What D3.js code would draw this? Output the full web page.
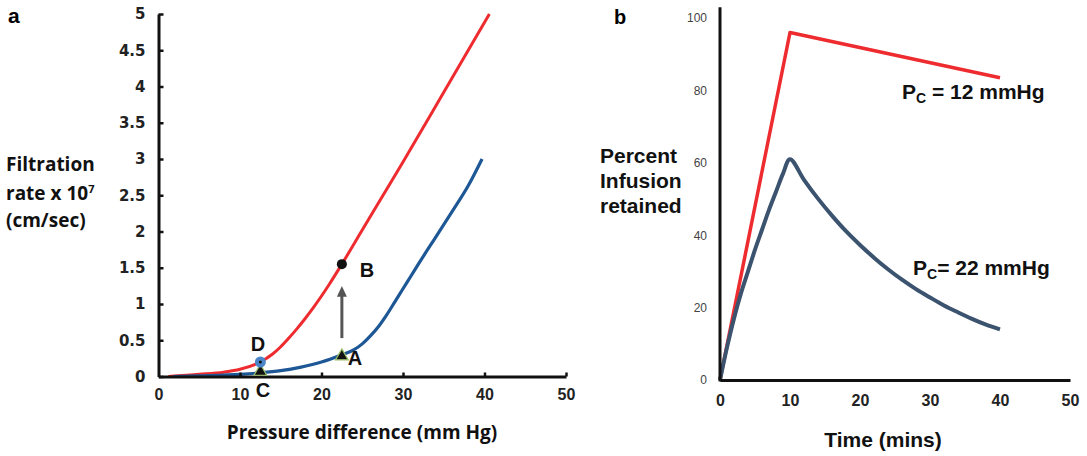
<!DOCTYPE html>
<html>
<head>
<meta charset="utf-8">
<script src="https://cdn.jsdelivr.net/npm/d3@7"></script>
<style>
  body { margin: 0; background: #fff; }
  svg { display: block; }
  .tick text { font-family: "Liberation Sans", Arial, sans-serif; }
</style>
</head>
<body>
<div id="chart"></div>
<script>
// Panel a: filtration rate vs pressure difference
var pressureRed = [1.2, 5, 8, 10, 12.5, 14, 15, 16, 17, 18, 19, 20, 21, 22.5, 25, 27.5, 30, 35, 40.6];
var filtrationRed = [0, 0.03, 0.06, 0.1, 0.2, 0.31, 0.41, 0.53, 0.66, 0.8, 0.95, 1.11, 1.28, 1.55, 2.02, 2.49, 2.96, 3.92, 5.0];
var pressureBlue = [1.8, 5, 10, 12.5, 15, 17.5, 20, 22.5, 24, 25, 26, 27, 28, 29, 30, 31, 32, 34, 36, 38, 39.7];
var filtrationBlue = [0, 0.01, 0.03, 0.05, 0.08, 0.13, 0.2, 0.3, 0.37, 0.45, 0.56, 0.69, 0.85, 1.03, 1.21, 1.39, 1.57, 1.92, 2.27, 2.63, 3.0];
var pressureTicks = [0, 10, 20, 30, 40, 50];
var filtrationTicks = [0, 0.5, 1, 1.5, 2, 2.5, 3, 3.5, 4, 4.5, 5];

// labelled points on panel a
var pointNames = ["D", "C", "A", "B"];
var pointPressure = [12.5, 12.5, 22.5, 22.5];
var pointFiltration = [0.2, 0.04, 0.28, 1.55];

// Panel b: percent infusion retained vs time
var timeRed = [0, 10, 40];
var retainedRed = [0, 96, 83.5];
var timeBlue = [0, 1, 2, 3, 4, 5, 6, 7, 8, 9, 10, 12, 14, 16, 18, 20, 22, 24, 26, 28, 30, 32, 34, 36, 38, 40];
var retainedBlue = [0, 9, 17, 24, 30, 36, 41.5, 47, 52, 57, 61, 55.3, 50.1, 45.4, 41.1, 37.3, 33.8, 30.6, 27.7, 25.1, 22.8, 20.6, 18.7, 16.9, 15.3, 14];
var timeTicks = [0, 10, 20, 30, 40, 50];
var retainedTicks = [0, 20, 40, 60, 80, 100];

var svgWidth = 1087;
var svgHeight = 456;
var red = "#ee2b2f";

var svg = d3.select("#chart").append("svg")
    .attr("width", svgWidth)
    .attr("height", svgHeight);

// ---------- panel a ----------
var xA = d3.scaleLinear().domain([0, 50]).range([158.5, 566]);
var yA = d3.scaleLinear().domain([0, 5]).range([376.5, 14]);

var lineA = d3.line().curve(d3.curveMonotoneX);

svg.append("path")
    .attr("d", lineA(pressureRed.map((p, i) => [xA(p), yA(filtrationRed[i])])))
    .attr("fill", "none")
    .attr("stroke", red)
    .attr("stroke-width", 3);

svg.append("path")
    .attr("d", lineA(pressureBlue.map((p, i) => [xA(p), yA(filtrationBlue[i])])))
    .attr("fill", "none")
    .attr("stroke", "#1d5796")
    .attr("stroke-width", 3.2);

var axisA_y = svg.append("g")
    .attr("transform", `translate(${xA(0)},0)`)
    .call(d3.axisLeft(yA).tickValues(filtrationTicks).tickSizeInner(-5).tickSizeOuter(0).tickPadding(13)
        .tickFormat(d => d));
var axisA_x = svg.append("g")
    .attr("transform", `translate(0,${yA(0)})`)
    .call(d3.axisBottom(xA).tickValues(pressureTicks).tickSizeInner(-4).tickSizeOuter(0).tickPadding(12));

[axisA_y, axisA_x].forEach(function (g) {
    g.select(".domain").attr("stroke", "#111").attr("stroke-width", 3);
    g.selectAll(".tick line").attr("stroke", "#111").attr("stroke-width", 2.5);
    g.selectAll(".tick text")
        .attr("font-weight", "bold")
        .attr("fill", "#222");
});
axisA_y.selectAll(".tick text")
    .style("font-family", "'DejaVu Sans', sans-serif")
    .style("font-size", "15px");
axisA_x.selectAll(".tick text").attr("font-size", 16);
axisA_x.selectAll(".tick").filter(d => d === 0).select("line").remove();

// arrow from A towards B
var arrowX = xA(22.5);
svg.append("line")
    .attr("x1", arrowX).attr("x2", arrowX)
    .attr("y1", yA(0.53)).attr("y2", yA(1.12))
    .attr("stroke", "#555").attr("stroke-width", 3);
svg.append("path")
    .attr("d", `M${arrowX - 5},${yA(1.1)} L${arrowX + 5},${yA(1.1)} L${arrowX},${yA(1.25)} Z`)
    .attr("fill", "#555");

// point markers
var tri = d3.symbol().type(d3.symbolTriangle).size(70);
svg.append("path")
    .attr("d", tri())
    .attr("transform", `translate(${xA(pointPressure[1])},${yA(pointFiltration[1]) - 2})`)
    .attr("fill", "#111").attr("stroke", "#9cc26b").attr("stroke-width", 1.2);
svg.append("path")
    .attr("d", tri())
    .attr("transform", `translate(${xA(pointPressure[2])},${yA(pointFiltration[2])})`)
    .attr("fill", "#111").attr("stroke", "#9cc26b").attr("stroke-width", 1.2);
svg.append("circle")
    .attr("cx", xA(pointPressure[0])).attr("cy", yA(pointFiltration[0]))
    .attr("r", 5.5).attr("fill", "#4a86c8");
svg.append("circle")
    .attr("cx", xA(pointPressure[0])).attr("cy", yA(pointFiltration[0]))
    .attr("r", 1.5).attr("fill", "#111");
svg.append("circle")
    .attr("cx", xA(pointPressure[3])).attr("cy", yA(pointFiltration[3]))
    .attr("r", 5).attr("fill", "#111");

// point letters
var letterPos = [[258, 344], [263, 390], [355, 358], [367, 270]];
svg.selectAll("text.point-label")
    .data(pointNames)
    .enter()
    .append("text")
    .classed("point-label", true)
    .attr("x", (d, i) => letterPos[i][0])
    .attr("y", (d, i) => letterPos[i][1])
    .attr("dy", "0.36em")
    .attr("text-anchor", "middle")
    .attr("font-family", "Liberation Sans, Arial, sans-serif")
    .attr("font-weight", "bold")
    .attr("font-size", 20)
    .attr("fill", "#111")
    .text(d => d);

svg.append("text")
    .attr("x", 8).attr("y", 23)
    .attr("font-family", "Liberation Sans, Arial, sans-serif")
    .attr("font-weight", "bold").attr("font-size", 21)
    .text("a");

var yTitleA = svg.append("text")
    .attr("font-family", "Open Sans, sans-serif")
    .attr("font-weight", 700)
    .attr("font-size", 19)
    .attr("fill", "#111");
yTitleA.append("tspan").attr("x", 6).attr("y", 171).text("Filtration");
yTitleA.append("tspan").attr("x", 6).attr("y", 200).text("rate  x 10");
yTitleA.append("tspan").attr("dy", -7).attr("font-size", 11).text("7");
yTitleA.append("tspan").attr("x", 6).attr("y", 227).text("(cm/sec)");

svg.append("text")
    .attr("x", 362).attr("y", 439)
    .attr("text-anchor", "middle")
    .attr("font-family", "Open Sans, sans-serif")
    .attr("font-weight", 700)
    .attr("font-size", 19)
    .attr("fill", "#111")
    .text("Pressure difference (mm Hg)");

// ---------- panel b ----------
var xB = d3.scaleLinear().domain([0, 50]).range([720, 1070]);
var yB = d3.scaleLinear().domain([0, 100]).range([380, 18]);

svg.append("path")
    .attr("d", d3.line()(timeRed.map((t, i) => [xB(t), yB(retainedRed[i])])))
    .attr("fill", "none")
    .attr("stroke", red)
    .attr("stroke-width", 3.5)
    .attr("stroke-linejoin", "round");

svg.append("path")
    .attr("d", d3.line().curve(d3.curveCatmullRom.alpha(0.5))(timeBlue.map((t, i) => [xB(t), yB(retainedBlue[i])])))
    .attr("fill", "none")
    .attr("stroke", "#3b536e")
    .attr("stroke-width", 4);

var axisB_y = svg.append("g")
    .attr("transform", `translate(${xB(0)},0)`)
    .call(d3.axisLeft(yB).tickValues(retainedTicks).tickSize(0).tickPadding(13));
axisB_y.select(".domain").remove();
axisB_y.selectAll(".tick text").attr("font-size", 12).attr("fill", "#444");

var axisB_x = svg.append("g")
    .attr("transform", `translate(0,${yB(0)})`)
    .call(d3.axisBottom(xB).tickValues(timeTicks).tickSize(0).tickPadding(15));
axisB_x.select(".domain").attr("stroke", "#111").attr("stroke-width", 3);
axisB_x.selectAll(".tick text").attr("font-size", 16).attr("font-weight", "bold").attr("fill", "#222");

svg.append("line")
    .attr("x1", xB(0)).attr("x2", xB(0))
    .attr("y1", yB(0) + 1.5).attr("y2", yB(103))
    .attr("stroke", "#111").attr("stroke-width", 3);

svg.append("text")
    .attr("x", 614).attr("y", 24)
    .attr("font-family", "Liberation Sans, Arial, sans-serif")
    .attr("font-weight", "bold").attr("font-size", 20)
    .text("b");

var yTitleB = svg.append("text")
    .attr("font-family", "Liberation Sans, Arial, sans-serif")
    .attr("font-weight", "bold")
    .attr("font-size", 21)
    .attr("fill", "#111");
yTitleB.append("tspan").attr("x", 600).attr("y", 163).text("Percent");
yTitleB.append("tspan").attr("x", 600).attr("y", 188).text("Infusion");
yTitleB.append("tspan").attr("x", 600).attr("y", 213).text("retained");

svg.append("text")
    .attr("x", 883).attr("y", 447)
    .attr("text-anchor", "middle")
    .attr("font-family", "Liberation Sans, Arial, sans-serif")
    .attr("font-weight", "bold")
    .attr("font-size", 21)
    .attr("fill", "#111")
    .text("Time (mins)");

function pcLabel(x, y, rest) {
    var t = svg.append("text")
        .attr("x", x).attr("y", y)
        .attr("font-family", "Liberation Sans, Arial, sans-serif")
        .attr("font-weight", "bold")
        .attr("font-size", 21)
        .attr("fill", "#111");
    t.append("tspan").text("P");
    t.append("tspan").attr("dy", 4).attr("font-size", 14).text("C");
    t.append("tspan").attr("dy", -4).text(rest);
}
pcLabel(902, 99, " = 12 mmHg");
pcLabel(913, 275, "= 22 mmHg");
</script>
</body>
</html>
